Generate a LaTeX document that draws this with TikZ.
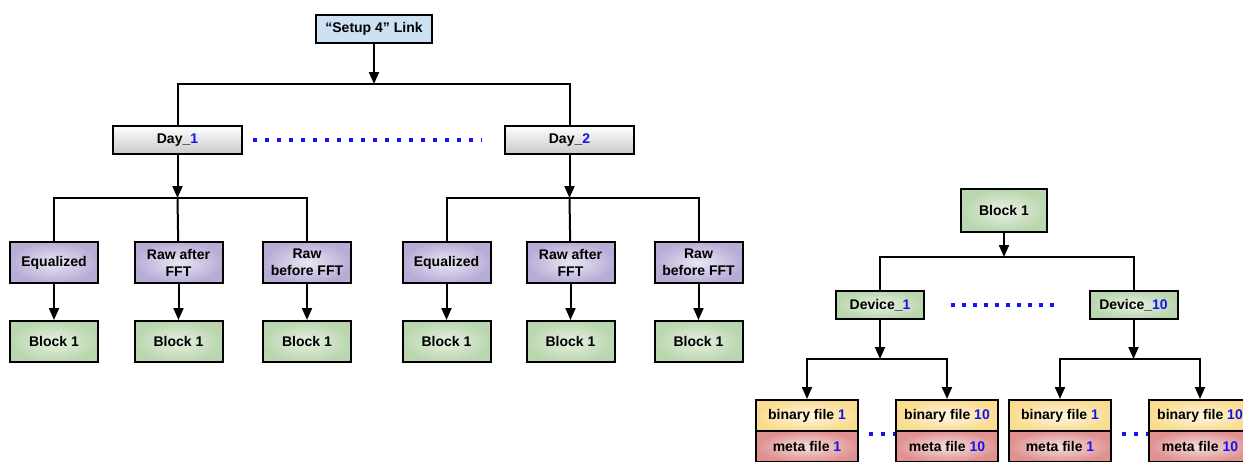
\documentclass[tikz,border=0pt]{standalone}
\usepackage{fontspec}
\setmainfont{Liberation Sans}
\usetikzlibrary{arrows.meta,positioning}
\definecolor{numblue}{RGB}{20,20,235}
\definecolor{setupfill}{RGB}{205,225,243}
\definecolor{dayfill}{RGB}{200,200,200}
\definecolor{procfill}{RGB}{184,172,214}
\definecolor{blockfill}{RGB}{186,214,174}
\definecolor{binfill}{RGB}{250,220,145}
\definecolor{metafill}{RGB}{224,145,145}
\newcommand{\num}[1]{\textcolor{numblue}{#1}}
\tikzset{
    box/.style = {
        draw,
        line width=2pt,
        font=\bfseries\fontsize{14pt}{17pt}\selectfont,
        align=center,
        inner sep=0pt,
        },
    setup box/.style = {
        box,
        fill=setupfill,
        minimum width=116pt,
        minimum height=28pt,
        },
    day box/.style = {
        box,
        top color=white,
        bottom color=dayfill,
        minimum width=129pt,
        minimum height=28pt,
        },
    proc box/.style = {
        box,
        inner color=procfill!30,
        outer color=procfill,
        minimum width=88pt,
        minimum height=41pt,
        },
    block box/.style = {
        box,
        inner color=blockfill!35,
        outer color=blockfill,
        minimum width=88pt,
        minimum height=41pt,
        },
    device box/.style = {
        box,
        inner color=blockfill!35,
        outer color=blockfill,
        minimum width=88pt,
        minimum height=28pt,
        },
    bin box/.style = {
        box,
        inner color=binfill!25,
        outer color=binfill,
        minimum width=102pt,
        minimum height=31pt,
        },
    meta box/.style = {
        box,
        inner color=metafill!30,
        outer color=metafill,
        minimum width=102pt,
        minimum height=31pt,
        },
    link/.style = {
        line width=2pt,
        },
    arrow/.style = {
        link,
        -{Triangle[length=12pt,width=10pt]},
        },
    dots/.style = {
        numblue,
        line width=3.5pt,
        dash pattern=on 3.5pt off 8.5pt,
        },
}

\begin{document}
\begin{tikzpicture}[x=1pt,y=-1pt]
    \useasboundingbox (0,0) rectangle (1243,461);
    \clip (0,0) rectangle (1243,461);

    % left tree
    \node[setup box] (setup) at (374,29) {“Setup 4” Link};
    \node[day box] (day1) at (177.5,140) {Day\_\num{1}};
    \node[day box] (day2) at (569.5,140) {Day\_\num{2}};

    \node[proc box] (eq1) at (54,262.5) {Equalized};
    \node[proc box] (ra1) at (178.5,262.5) {Raw after\\FFT};
    \node[proc box] (rb1) at (307,262.5) {Raw\\before FFT};
    \node[proc box] (eq2) at (446.5,262.5) {Equalized};
    \node[proc box] (ra2) at (570.5,262.5) {Raw after\\FFT};
    \node[proc box] (rb2) at (698.5,262.5) {Raw\\before FFT};

    \node[block box, below=36pt of eq1] (blk1) {Block 1};
    \node[block box, below=36pt of ra1] (blk2) {Block 1};
    \node[block box, below=36pt of rb1] (blk3) {Block 1};
    \node[block box, below=36pt of eq2] (blk4) {Block 1};
    \node[block box, below=36pt of ra2] (blk5) {Block 1};
    \node[block box, below=36pt of rb2] (blk6) {Block 1};

    \coordinate (bus0) at (374,84);
    \coordinate (bus1) at (177.5,198);
    \coordinate (bus2) at (569.5,198);

    \draw[arrow] (setup) -- (bus0);
    \draw[link] (day1) |- (bus0) -| (day2);
    \draw[dots] ([xshift=10pt]day1.east) -- ([xshift=-22pt]day2.west);

    \draw[arrow] (day1) -- (bus1);
    \draw[link] (eq1) |- (bus1) -| (rb1);
    \draw[link] (bus1) -- (ra1);
    \draw[arrow] (day2) -- (bus2);
    \draw[link] (eq2) |- (bus2) -| (rb2);
    \draw[link] (bus2) -- (ra2);

    \draw[arrow] (eq1) -- (blk1);
    \draw[arrow] (ra1) -- (blk2);
    \draw[arrow] (rb1) -- (blk3);
    \draw[arrow] (eq2) -- (blk4);
    \draw[arrow] (ra2) -- (blk5);
    \draw[arrow] (rb2) -- (blk6);

    % right tree
    \node[block box, minimum width=86pt, minimum height=43pt] (blk) at (1004,210.5) {Block 1};
    \node[device box] (dev1) at (880,305) {Device\_\num{1}};
    \node[device box] (dev10) at (1133.5,305) {Device\_\num{10}};

    \node[bin box] (bin1) at (807,415.5) {binary file \num{1}};
    \node[bin box] (bin2) at (947,415.5) {binary file \num{10}};
    \node[bin box] (bin3) at (1060,415.5) {binary file \num{1}};
    \node[bin box] (bin4) at (1200,415.5) {binary file \num{10}};
    \node[meta box, below=-2pt of bin1] (meta1) {meta file \num{1}};
    \node[meta box, below=-2pt of bin2] (meta2) {meta file \num{10}};
    \node[meta box, below=-2pt of bin3] (meta3) {meta file \num{1}};
    \node[meta box, below=-2pt of bin4] (meta4) {meta file \num{10}};

    \coordinate (bus3) at (1004,257);
    \coordinate (bus4) at (880,359);
    \coordinate (bus5) at (1133.5,359);

    \draw[arrow] (blk) -- (bus3);
    \draw[link] (dev1) |- (bus3) -| (dev10);
    \draw[dots, dash pattern=on 3.5pt off 7.5pt] ([xshift=26pt]dev1.east) -- ([xshift=-29pt]dev10.west);

    \draw[arrow] (dev1) -- (bus4);
    \draw[arrow] (bus4) -| (bin1);
    \draw[arrow] (bus4) -| (bin2);
    \draw[arrow] (dev10) -- (bus5);
    \draw[arrow] (bus5) -| (bin3);
    \draw[arrow] (bus5) -| (bin4);

    \draw[dots] ([shift={(10,2)}]bin1.south east) -- ([shift={(0,2)}]bin2.south west);
    \draw[dots] ([shift={(10,2)}]bin3.south east) -- ([shift={(0,2)}]bin4.south west);
\end{tikzpicture}
\end{document}
